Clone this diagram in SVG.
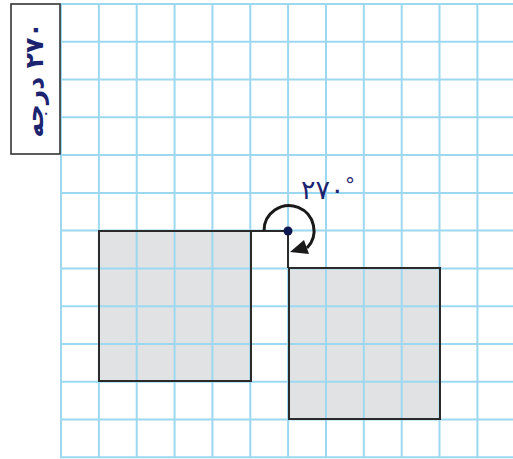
<svg xmlns="http://www.w3.org/2000/svg" width="513" height="459" viewBox="0 0 513 459">
<style>
.grid line{stroke:#9cd8f0;stroke-width:2}
.fill{fill:#e1e2e4;stroke:none}
.edge{fill:none;stroke:#2a2a2a;stroke-width:2}
.num{font-family:"DejaVu Sans",sans-serif;fill:#1c2470}
</style>
<rect width="513" height="459" fill="#ffffff"/>
<g id="shape-fills">
<rect class="fill" x="99" y="231" width="152" height="150"/>
<rect class="fill" x="289" y="268" width="151" height="151"/>
</g>
<g id="grid" class="grid">
<line x1="61" y1="3" x2="61" y2="458"/>
<line x1="98.9" y1="3" x2="98.9" y2="458"/>
<line x1="136.7" y1="3" x2="136.7" y2="458"/>
<line x1="174.6" y1="3" x2="174.6" y2="458"/>
<line x1="212.4" y1="3" x2="212.4" y2="458"/>
<line x1="250.3" y1="3" x2="250.3" y2="458"/>
<line x1="288.1" y1="3" x2="288.1" y2="458"/>
<line x1="326" y1="3" x2="326" y2="458"/>
<line x1="363.8" y1="3" x2="363.8" y2="458"/>
<line x1="401.7" y1="3" x2="401.7" y2="458"/>
<line x1="439.5" y1="3" x2="439.5" y2="458"/>
<line x1="477.4" y1="3" x2="477.4" y2="458"/>
<line x1="60" y1="4" x2="513" y2="4"/>
<line x1="60" y1="41.8" x2="513" y2="41.8"/>
<line x1="60" y1="79.5" x2="513" y2="79.5"/>
<line x1="60" y1="117.3" x2="513" y2="117.3"/>
<line x1="60" y1="155.1" x2="513" y2="155.1"/>
<line x1="60" y1="192.9" x2="513" y2="192.9"/>
<line x1="60" y1="230.6" x2="513" y2="230.6"/>
<line x1="60" y1="268.4" x2="513" y2="268.4"/>
<line x1="60" y1="306.2" x2="513" y2="306.2"/>
<line x1="60" y1="343.9" x2="513" y2="343.9"/>
<line x1="60" y1="381.7" x2="513" y2="381.7"/>
<line x1="60" y1="419.5" x2="513" y2="419.5"/>
<line x1="60" y1="457.2" x2="513" y2="457.2"/>
</g>
<g id="label">
<rect x="11" y="4" width="49" height="150" fill="#ffffff" stroke="#333333" stroke-width="1.6"/>
<text class="num" transform="translate(43,80) rotate(-90)" text-anchor="middle" font-size="25" font-weight="bold" direction="rtl" style="direction:rtl">۲۷۰ درجه</text>
</g>
<g id="square-original">
<path class="edge" d="M251,381 L251,231 M99,231 L288,231 L288,268"/>
<rect class="edge" x="99" y="231" width="152" height="150"/>
</g>
<g id="square-rotated">
<rect class="edge" x="289" y="268" width="151" height="151"/>
</g>
<g id="connectors">
<path d="M264,231 A25,25 0 1 1 307,248" fill="none" stroke="#1a1a1a" stroke-width="3"/>
<polygon points="290,252 304,240 309,254" fill="#1a1a1a"/>
</g>
<g id="pivot">
<circle cx="288" cy="231" r="4.5" fill="#0e1850"/>
</g>
<g id="angle-label">
<text class="num" x="301" y="199" font-size="27">۲۷۰</text>
<text class="num" x="345" y="192" font-size="20">°</text>
</g>
</svg>
